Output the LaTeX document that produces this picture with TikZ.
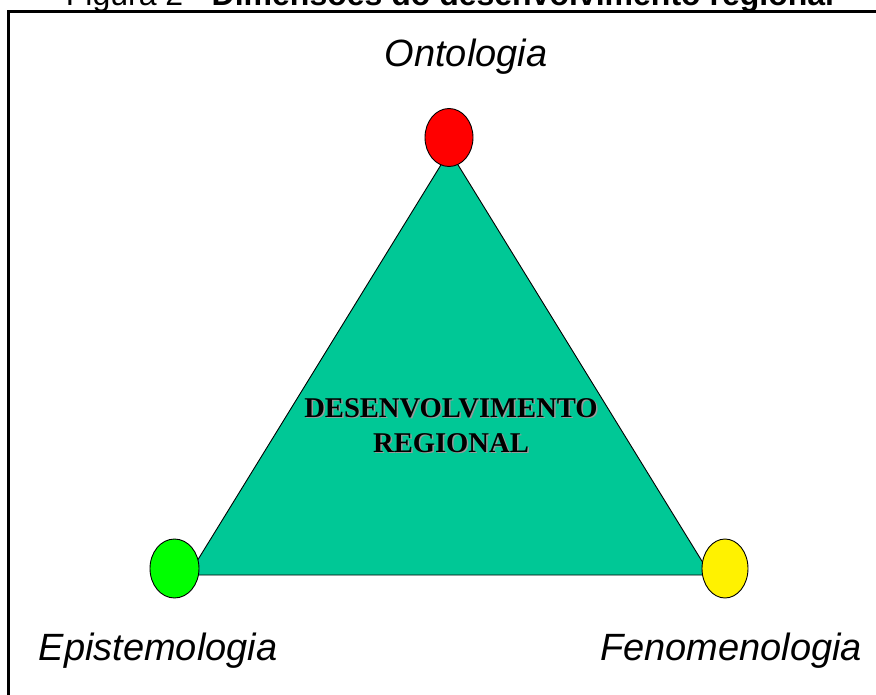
\documentclass[tikz,border=0pt]{standalone}
\usepackage{fontspec}
\setmainfont{Liberation Sans}
\newfontfamily\serifb{Liberation Serif}
\usetikzlibrary{shapes.geometric}
\definecolor{tealfill}{RGB}{0,200,150}
\tikzset{
  dot/.style={ellipse, draw=black, line width=0.9pt, inner sep=0pt, minimum width=48pt, minimum height=58pt},
  lbl/.style={font=\fontsize{38}{42}\selectfont\itshape, inner sep=0pt, anchor=base},
  centertxt/.style={font=\serifb\bfseries\fontsize{28.6}{35}\selectfont, align=center, inner sep=0pt, anchor=base},
}
\begin{document}
\begin{tikzpicture}[x=1pt,y=-1pt]
\useasboundingbox (0,0) rectangle (876,695);
% frame
\draw[line width=2.6pt] (8.7,760) -- (8.7,11.3) -- (960,11.3);
% title (partly cut off)
\node[font=\fontsize{32}{36}\selectfont, inner sep=0pt, anchor=base] (title) at (450,6) {Figura 2 - \textbf{Dimensões do desenvolvimento regional}};
% triangle
\coordinate (tA) at (449.5,151);
\coordinate (tB) at (188.5,575);
\coordinate (tC) at (710.5,575);
\filldraw[fill=tealfill, draw=black, line width=0.9pt] (tA) -- (tB) -- (tC) -- cycle;
% vertices
\node[dot, fill=red] (onto) at (449,137.5) {};
\node[dot, fill=green, minimum width=49pt, minimum height=59pt] (epis) at (174.5,568.5) {};
\node[dot, fill=yellow, minimum width=46pt, minimum height=59pt] (feno) at (725,568.5) {};
% center text with shadow
\node[centertxt, text=black!40] (ctxtshadow) at (452.5,453.5) {DESENVOLVIMENTO\\REGIONAL};
\node[centertxt] (ctxt) at (451,452) {DESENVOLVIMENTO\\REGIONAL};
% labels
\node[lbl] (lonto) at (466,67) {Ontologia};
\node[lbl] (lepis) at (158,660) {Epistemologia};
\node[lbl] (lfeno) at (731,660) {Fenomenologia};
\end{tikzpicture}
\end{document}
